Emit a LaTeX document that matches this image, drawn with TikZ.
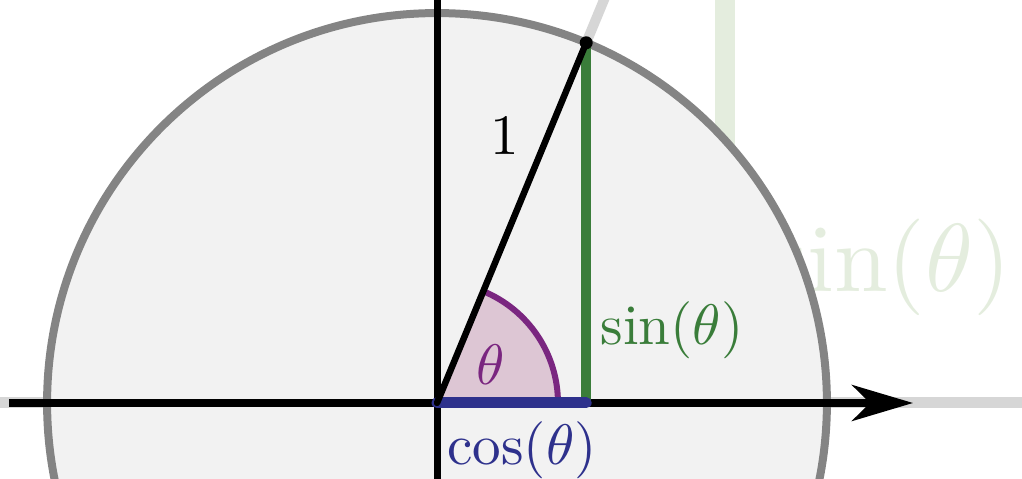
\documentclass[tikz,border=0pt]{standalone}
\usetikzlibrary{arrows.meta,calc}
\definecolor{circfill}{RGB}{242,242,242}
\definecolor{circline}{RGB}{132,132,132}
\definecolor{singreen}{RGB}{58,125,58}
\definecolor{cosblue}{RGB}{46,49,140}
\definecolor{angpurple}{RGB}{122,38,128}
\definecolor{angfill}{RGB}{221,198,212}
\definecolor{fadegreen}{RGB}{228,237,222}
\definecolor{fadegray}{RGB}{214,214,214}
\tikzset{
  lbl/.style={inner sep=0pt, font=\fontsize{10}{12}\selectfont, scale=3.25},
  fadeline/.style={draw=fadegray, line width=0.22cm},
  axis/.style={draw=black, line width=0.14cm},
}
\begin{document}
\begin{tikzpicture}[x=0.02cm,y=0.02cm]
\useasboundingbox (0,0) rectangle (1022,479);
\clip (0,0) rectangle (1022,479);
\coordinate (O) at (437,76);
\coordinate (P) at ($(O)+(67.5:7.8cm)$);
\coordinate (F) at (P |- O);
\coordinate (L) at (0,76);
\coordinate (R) at (1022,76);
\coordinate (AL) at (9,76);
\coordinate (AR) at (913,76);
\coordinate (VT) at (437,479);
\coordinate (VB) at (437,0);
\coordinate (E) at ($(O)+(67.5:10cm)$);
\coordinate (GT) at (725,479);
\coordinate (GB) at (725,300);
% faded background elements
\draw[fadeline] (L) -- (R);
\draw[fadeline, line width=0.2cm] (P) -- (E);
\draw[draw=fadegreen, line width=0.4cm] (GT) -- (GB);
\node[lbl, anchor=east, text=fadegreen, scale=5.5/3.25] (fsin) at (1013,212) {sin($\theta$)};
% unit circle
\draw[fill=circfill, draw=circline, line width=0.16cm] (O) circle[radius=7.8cm];
% angle sector
\fill[angfill] (O) -- ++(0:2.42cm) arc[start angle=0, end angle=67.5, radius=2.42cm] -- cycle;
\draw[angpurple, line width=0.12cm] ($(O)+(0:2.42cm)$) arc[start angle=0, end angle=67.5, radius=2.42cm];
% axes
\draw[axis] (VB) -- (VT);
\draw[axis, line width=0.15cm, -{Stealth[length=1.22cm, width=0.72cm, inset=0.36cm]}] (AL) -- (AR);
% segments
\draw[singreen, line width=0.21cm] (P) -- (F);
\draw[cosblue, line width=0.22cm, line cap=round] (O) -- (F);
\draw[black, line width=0.13cm, line cap=round] (O) -- (P);
\fill[black] (P) circle[radius=0.13cm];
% labels
\node[lbl] (one) at (505,344) {1};
\node[lbl, text=angpurple] (th) at (491,114) {$\theta$};
\node[lbl, text=singreen] (sin) at (672,149) {sin($\theta$)};
\node[lbl, text=cosblue] (cos) at (522,29) {cos($\theta$)};
\end{tikzpicture}
\end{document}
